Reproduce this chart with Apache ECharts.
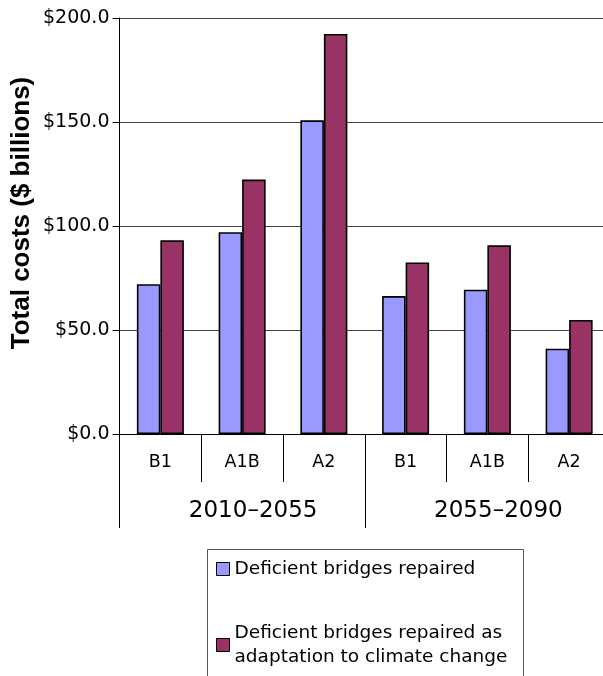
<!DOCTYPE html>
<html>
<head>
<meta charset="utf-8">
<script src="https://cdn.jsdelivr.net/npm/echarts@6/dist/echarts.min.js"></script>
<style>html,body{margin:0;padding:0;background:#fff;}#c{width:603px;height:676px;}</style>
</head>
<body>
<div id="c"></div>
<script>
const periods = ['2010–2055', '2055–2090'];
const scenarios = ['B1', 'A1B', 'A2', 'B1', 'A1B', 'A2'];
const repaired = [72.0, 97.0, 150.8, 66.3, 69.4, 41.0];
const adaptation = [93.1, 122.3, 192.3, 82.5, 90.7, 54.8];
const yTicks = [0, 50, 100, 150, 200];
const seriesNames = ['Deficient bridges repaired', 'Deficient bridges repaired as\nadaptation to climate change'];

const chart = echarts.init(document.getElementById('c'), null, {renderer: 'canvas'});
const F = 'DejaVu Sans';
const legendBase = {
  orient: 'vertical', itemWidth: 13, itemHeight: 13, icon: 'rect',
  textStyle: {fontFamily: F, fontSize: 18.5, color: '#000', lineHeight: 24},
  selectedMode: false, itemStyle: {borderColor: '#000', borderWidth: 1}
};
chart.setOption({
  animation: false,
  backgroundColor: '#fff',
  grid: {left: 119.5, top: 18, bottom: 242, width: 490.5, containLabel: false, outerBoundsMode: 'none'},
  xAxis: [{
    type: 'category', data: scenarios, position: 'bottom',
    axisLine: {show: true, lineStyle: {color: '#000', width: 1}},
    axisTick: {show: true, interval: 0, length: 48, lineStyle: {color: '#000', width: 1}},
    axisLabel: {interval: 0, margin: 19, color: '#000', fontFamily: F, fontSize: 17.5}
  }, {
    type: 'category', data: periods, position: 'bottom', offset: 0,
    axisLine: {show: false},
    axisTick: {show: true, interval: 0, length: 94, lineStyle: {color: '#000', width: 1}},
    axisLabel: {interval: 0, margin: 66, color: '#000', fontFamily: F, fontSize: 23, padding: [0, 0, 0, 22]}
  }],
  yAxis: {
    type: 'value', min: 0, max: 200, interval: 50,
    axisLine: {show: true, lineStyle: {color: '#000', width: 1}},
    axisTick: {show: true, length: 7, lineStyle: {color: '#000'}},
    axisLabel: {margin: 10, color: '#000', fontFamily: F, fontSize: 19,
      formatter: v => yTicks.includes(v) ? '$' + v.toFixed(1) : ''},
    splitLine: {show: true, lineStyle: {color: '#444', width: 1}}
  },
  legend: [
    Object.assign({}, legendBase, {left: 216, top: 557, data: [seriesNames[0]], padding: 0}),
    Object.assign({}, legendBase, {left: 216, top: 621, data: [seriesNames[1]], padding: 0})
  ],
  graphic: [{
    type: 'rect', shape: {x: 207.5, y: 549.5, width: 316, height: 140},
    style: {fill: 'none', stroke: '#555', lineWidth: 1}, z: 0
  }, {
    type: 'text', x: 21.5, y: 213, rotation: Math.PI / 2,
    style: {text: 'Total costs ($ billions)', fontFamily: 'Liberation Sans', fontWeight: 'bold',
      fontSize: 26, fill: '#000', align: 'center', verticalAlign: 'middle'}
  }],
  series: [{
    name: seriesNames[0], type: 'bar', data: repaired, barWidth: 23.5, barGap: '0%',
    itemStyle: {color: '#9999FF', borderColor: '#000', borderWidth: 1.6}
  }, {
    name: seriesNames[1], type: 'bar', data: adaptation, barWidth: 23.5, barGap: '0%',
    itemStyle: {color: '#993366', borderColor: '#000', borderWidth: 1.6}
  }]
});
</script>
</body>
</html>
